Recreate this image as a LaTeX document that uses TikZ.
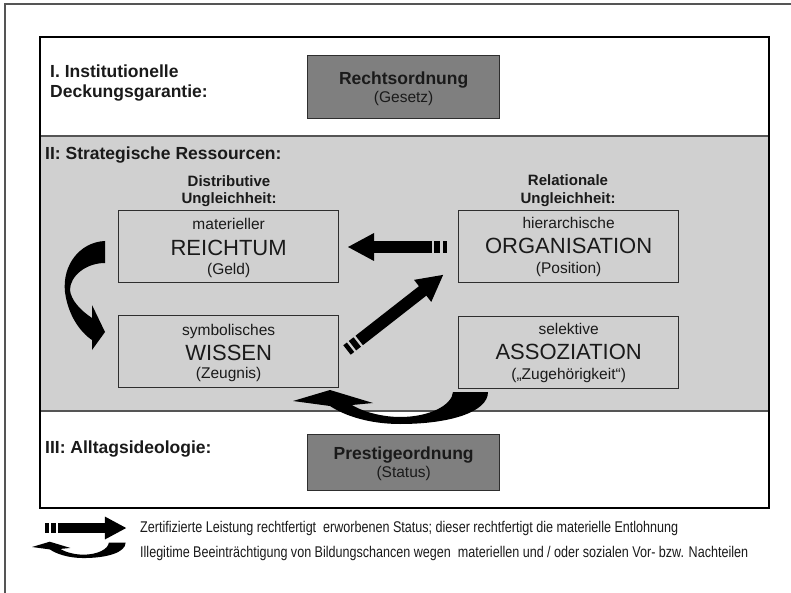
\documentclass[tikz,border=0pt]{standalone}
\usepackage{fontspec}
\setmainfont{Liberation Sans}
\usetikzlibrary{calc}
\definecolor{secgray}{HTML}{D0D0D0}
\definecolor{ordgray}{HTML}{7F7F7F}
\definecolor{boxline}{HTML}{2E2E2E}
\definecolor{txt}{HTML}{1A1A1A}
\definecolor{frameline}{HTML}{555555}
% striped block arrow: #1 tail point, #2 angle, #3 length, #4 scale
\newcommand\striparrow[4]{%
  \begin{scope}[shift={#1},rotate=#2,scale=#4]
    \fill[black] (0,-6) rectangle (4.5,6);
    \fill[black] (7,-6) rectangle (13,6);
    \fill[black] (15.5,-6) rectangle (#3-25,6);
    \fill[black] (#3-26,-14) -- (#3,0) -- (#3-26,14) -- cycle;
  \end{scope}}
% U-shaped curved block arrow: #1 tip point, #2 scale
\newcommand\curlarrow[2]{%
  \begin{scope}[shift={#1},scale=#2]
    \fill[black] (195,-9) .. controls (195,11) and (157,23) .. (107,23)
      .. controls (77,23) and (52,15) .. (37,5) -- (0,0) -- (37,-11) -- (80,2) -- (59,4)
      .. controls (72,12) and (92,16) .. (107,16)
      .. controls (137,16) and (159,4) .. (160,-9) -- cycle;
  \end{scope}}
\tikzset{
  lbl/.style={anchor=base west, inner sep=0pt, font=\fontsize{17.5}{20}\selectfont\bfseries, text=txt},
  hdr/.style={anchor=base, inner sep=0pt, font=\fontsize{15}{18}\selectfont\bfseries, text=txt},
  resbox/.style={draw=boxline, fill=secgray, line width=1.3pt, minimum width=220pt, minimum height=72pt, inner sep=0pt, anchor=north west},
  ordbox/.style={draw=boxline, fill=ordgray, line width=1.3pt, minimum width=192pt, inner sep=0pt, anchor=north west},
  smalltxt/.style={anchor=base, inner sep=0pt, font=\fontsize{15.5}{18}\selectfont, text=txt},
  bigtxt/.style={anchor=base, inner sep=0pt, font=\fontsize{22}{26}\selectfont, text=txt},
  ordtxt/.style={anchor=base, inner sep=0pt, font=\fontsize{17.5}{20}\selectfont\bfseries, text=txt},
  legtxt/.style={anchor=base west, inner sep=0pt, font=\fontsize{15.5}{18}\selectfont, text=txt},
}
\begin{document}
\begin{tikzpicture}[x=1pt,y=-1pt]
\useasboundingbox (0,0) rectangle (791,593);
\fill[white] (0,0) rectangle (791,593);
% outer frame lines
\draw[frameline, line width=1.2pt] (791,4) -- (5,4) -- (5,593);
% section II background
\fill[secgray] (40,136) rectangle (769,411);
\draw[frameline, line width=1.2pt] (40,136) -- (769,136);
\draw[frameline, line width=1.2pt] (40,411) -- (769,411);
\draw[black, line width=2pt] (40,37) rectangle (769,508);

% section labels
\node[lbl] (l1a) at (50,78) {I. Institutionelle};
\node[lbl] (l1b) at (50,98) {Deckungsgarantie:};
\node[lbl] (l2) at (45,160) {II: Strategische Ressourcen:};
\node[lbl] (l3) at (45,453) {III: Alltagsideologie:};

% order boxes
\node[ordbox, minimum height=63pt] (recht) at (307,55) {};
\node[ordtxt] (rechtA) at ([yshift=-30pt]recht.north) {Rechtsordnung};
\node[smalltxt] (rechtB) at ([yshift=-48pt]recht.north) {(Gesetz)};
\node[ordbox, minimum height=56pt] (prest) at (307,434) {};
\node[ordtxt] (prestA) at ([yshift=-25pt]prest.north) {Prestigeordnung};
\node[smalltxt] (prestB) at ([yshift=-43pt]prest.north) {(Status)};

% headers
\node[hdr] (dA) at (229,187) {Distributive};
\node[hdr] (dB) at (229,204) {Ungleichheit:};
\node[hdr] (rA) at (568,186) {Relationale};
\node[hdr] (rB) at (568,204) {Ungleichheit:};

% resource boxes
\node[resbox] (reich) at (118,210) {};
\node[resbox] (wiss) at (118,315) {};
\node[resbox] (orga) at (458,210) {};
\node[resbox] (asso) at (458,316) {};

\node[smalltxt] (reich1) at ([yshift=-20pt]reich.north) {materieller};
\node[bigtxt] (reich2) at ([yshift=-45pt]reich.north) {REICHTUM};
\node[smalltxt] (reich3) at ([yshift=-64.5pt]reich.north) {(Geld)};
\node[smalltxt] (wiss1) at ([yshift=-20pt]wiss.north) {symbolisches};
\node[bigtxt] (wiss2) at ([yshift=-45pt]wiss.north) {WISSEN};
\node[smalltxt] (wiss3) at ([yshift=-63.5pt]wiss.north) {(Zeugnis)};
\node[smalltxt] (orga1) at ([yshift=-19pt]orga.north) {hierarchische};
\node[bigtxt] (orga2) at ([yshift=-44pt]orga.north) {ORGANISATION};
\node[smalltxt] (orga3) at ([yshift=-63pt]orga.north) {(Position)};
\node[smalltxt] (asso1) at ([yshift=-18.5pt]asso.north) {selektive};
\node[bigtxt] (asso2) at ([yshift=-43.5pt]asso.north) {ASSOZIATION};
\node[smalltxt] (asso3) at ([yshift=-63pt]asso.north) {(„Zugehörigkeit“)};

% block arrows
\striparrow{(447,247)}{180}{99}{1}
\striparrow{(347,350)}{38}{122}{1}
\fill[black] (105,241) .. controls (80,242) and (62,265) .. (65,292)
  .. controls (68,315) and (80,332) .. (92,340) -- (92,350) -- (105,332) -- (92,305) -- (92,318)
  .. controls (80,310) and (71,300) .. (70,290)
  .. controls (70,276) and (86,263) .. (105,263) -- cycle;
\curlarrow{(293,401)}{1}

% legend
\striparrow{(45,528)}{0}{99}{0.82}
\curlarrow{(32,547)}{0.48}
\node[legtxt] (leg1) at (140,532) {\resizebox{538pt}{\height}{Zertifizierte Leistung rechtfertigt\ \ erworbenen Status; dieser rechtfertigt die materielle Entlohnung}};
\node[legtxt] (leg2) at (140,557) {\resizebox{608pt}{\height}{Illegitime Beeinträchtigung von Bildungschancen wegen\ \ materiellen und / oder sozialen Vor- bzw. Nachteilen}};
\end{tikzpicture}
\end{document}
